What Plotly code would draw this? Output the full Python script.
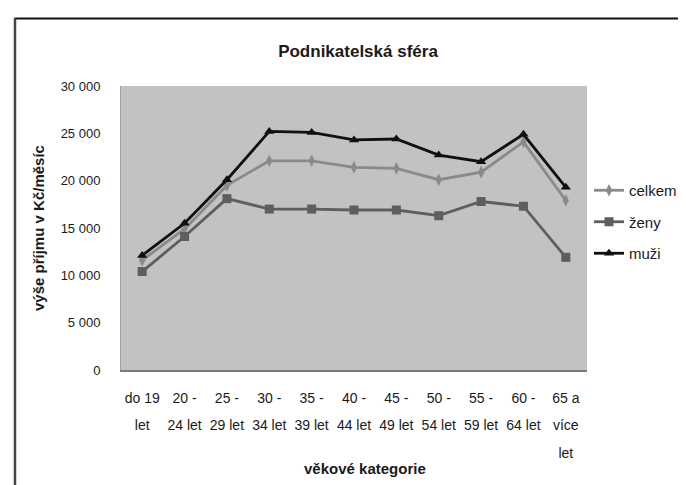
import plotly.graph_objects as go

categories = ["do 19 let", "20 - 24 let", "25 - 29 let", "30 - 34 let", "35 - 39 let",
              "40 - 44 let", "45 - 49 let", "50 - 54 let", "55 - 59 let", "60 - 64 let",
              "65 a více let"]
tick_labels = ["do 19<br>let", "20 -<br>24 let", "25 -<br>29 let", "30 -<br>34 let",
               "35 -<br>39 let", "40 -<br>44 let", "45 -<br>49 let", "50 -<br>54 let",
               "55 -<br>59 let", "60 -<br>64 let", "65 a<br>více<br>let"]
celkem = [11600, 14900, 19500, 22100, 22100, 21400, 21300, 20100, 20900, 24100, 17900]
zeny = [10400, 14100, 18100, 17000, 17000, 16900, 16900, 16300, 17800, 17300, 11900]
muzi = [12100, 15500, 20100, 25200, 25100, 24300, 24400, 22700, 22000, 24900, 19300]
y_ticks = [0, 5000, 10000, 15000, 20000, 25000, 30000]

FONT = "Liberation Sans, Arial, sans-serif"
TXT = "#1a1a1a"

# plot area in pixels
W, H = 686, 485
L, R, T, B = 113, 579, 78, 362
pw, ph = R - L, B - T

def px_x(p):
    return (p - L) / pw

def px_y(p):
    return (B - p) / ph

def styled(lbl, size=14):
    return "<br>".join(f"<span style='font-size:{size}px'>{part}</span>" for part in lbl.split("<br>"))

fig = go.Figure()
fig.add_trace(go.Scatter(x=categories, y=celkem, name="celkem", mode="lines+markers",
                         legendgroup="a",
                         line=dict(color="#8a8a8a", width=2.8),
                         marker=dict(symbol="diamond-tall", size=9, color="#8a8a8a")))
fig.add_trace(go.Scatter(x=categories, y=zeny, name="ženy", mode="lines+markers",
                         legendgroup="b",
                         line=dict(color="#5e5e5e", width=2.8),
                         marker=dict(symbol="square", size=9, color="#5e5e5e")))
fig.add_trace(go.Scatter(x=categories, y=muzi, name="muži", mode="lines+markers",
                         legendgroup="c",
                         line=dict(color="#101010", width=2.8),
                         marker=dict(symbol="triangle-up", size=9, color="#101010")))

fig.update_layout(
    width=W, height=H,
    margin=dict(l=L, r=W - R, t=T, b=H - B, pad=0),
    paper_bgcolor="white",
    plot_bgcolor="#c2c2c2",
    separators=", ",
    font=dict(family=FONT, color=TXT, size=13),
    title=dict(text="<b>Podnikatelská sféra</b>", x=350 / W, xanchor="center",
               y=1 - 43 / H, yanchor="middle",
               font=dict(family=FONT, size=17, color=TXT)),
    showlegend=True,
    legend=dict(x=px_x(581), xanchor="left", y=px_y(214), yanchor="middle",
                bgcolor="rgba(0,0,0,0)", tracegroupgap=9,
                font=dict(family=FONT, size=15, color=TXT),
                itemwidth=30),
    xaxis=dict(type="category", range=[-0.5, 10.5], tickmode="array",
               tickvals=categories, ticktext=[styled(t) for t in tick_labels],
               tickfont=dict(family=FONT, size=21, color=TXT), tickangle=0,
               showgrid=False, zeroline=False, ticks="",
               showline=True, linecolor="#7a7a7a", linewidth=1.5,
               ticklabelstandoff=6),
    yaxis=dict(range=[0, 30000], tickmode="array", tickvals=y_ticks,
               tickformat=",d", tickfont=dict(family=FONT, size=13, color=TXT),
               showgrid=False, zeroline=False, ticks="",
               showline=True, linecolor="#a0a0a0", linewidth=1,
               ticklabelstandoff=17),
    annotations=[
        dict(text="<b>věkové kategorie</b>", xref="paper", yref="paper",
             x=px_x(357), y=px_y(460), xanchor="center", yanchor="middle",
             showarrow=False, font=dict(family=FONT, size=15, color=TXT)),
        dict(text="<b>výše příjmu v Kč/měsíc</b>", xref="paper", yref="paper",
             x=px_x(30), y=px_y(220), xanchor="center", yanchor="middle",
             textangle=-90, showarrow=False, font=dict(family=FONT, size=15, color=TXT)),
    ],
    shapes=[
        dict(type="line", xref="paper", yref="paper", x0=px_x(6.5), x1=px_x(690),
             y0=px_y(10.5), y1=px_y(10.5), line=dict(color="#111111", width=2)),
        dict(type="line", xref="paper", yref="paper", x0=px_x(7), x1=px_x(7),
             y0=px_y(10), y1=px_y(490), line=dict(color="#444444", width=2.5)),
    ],
)

fig.write_html("out.html")
